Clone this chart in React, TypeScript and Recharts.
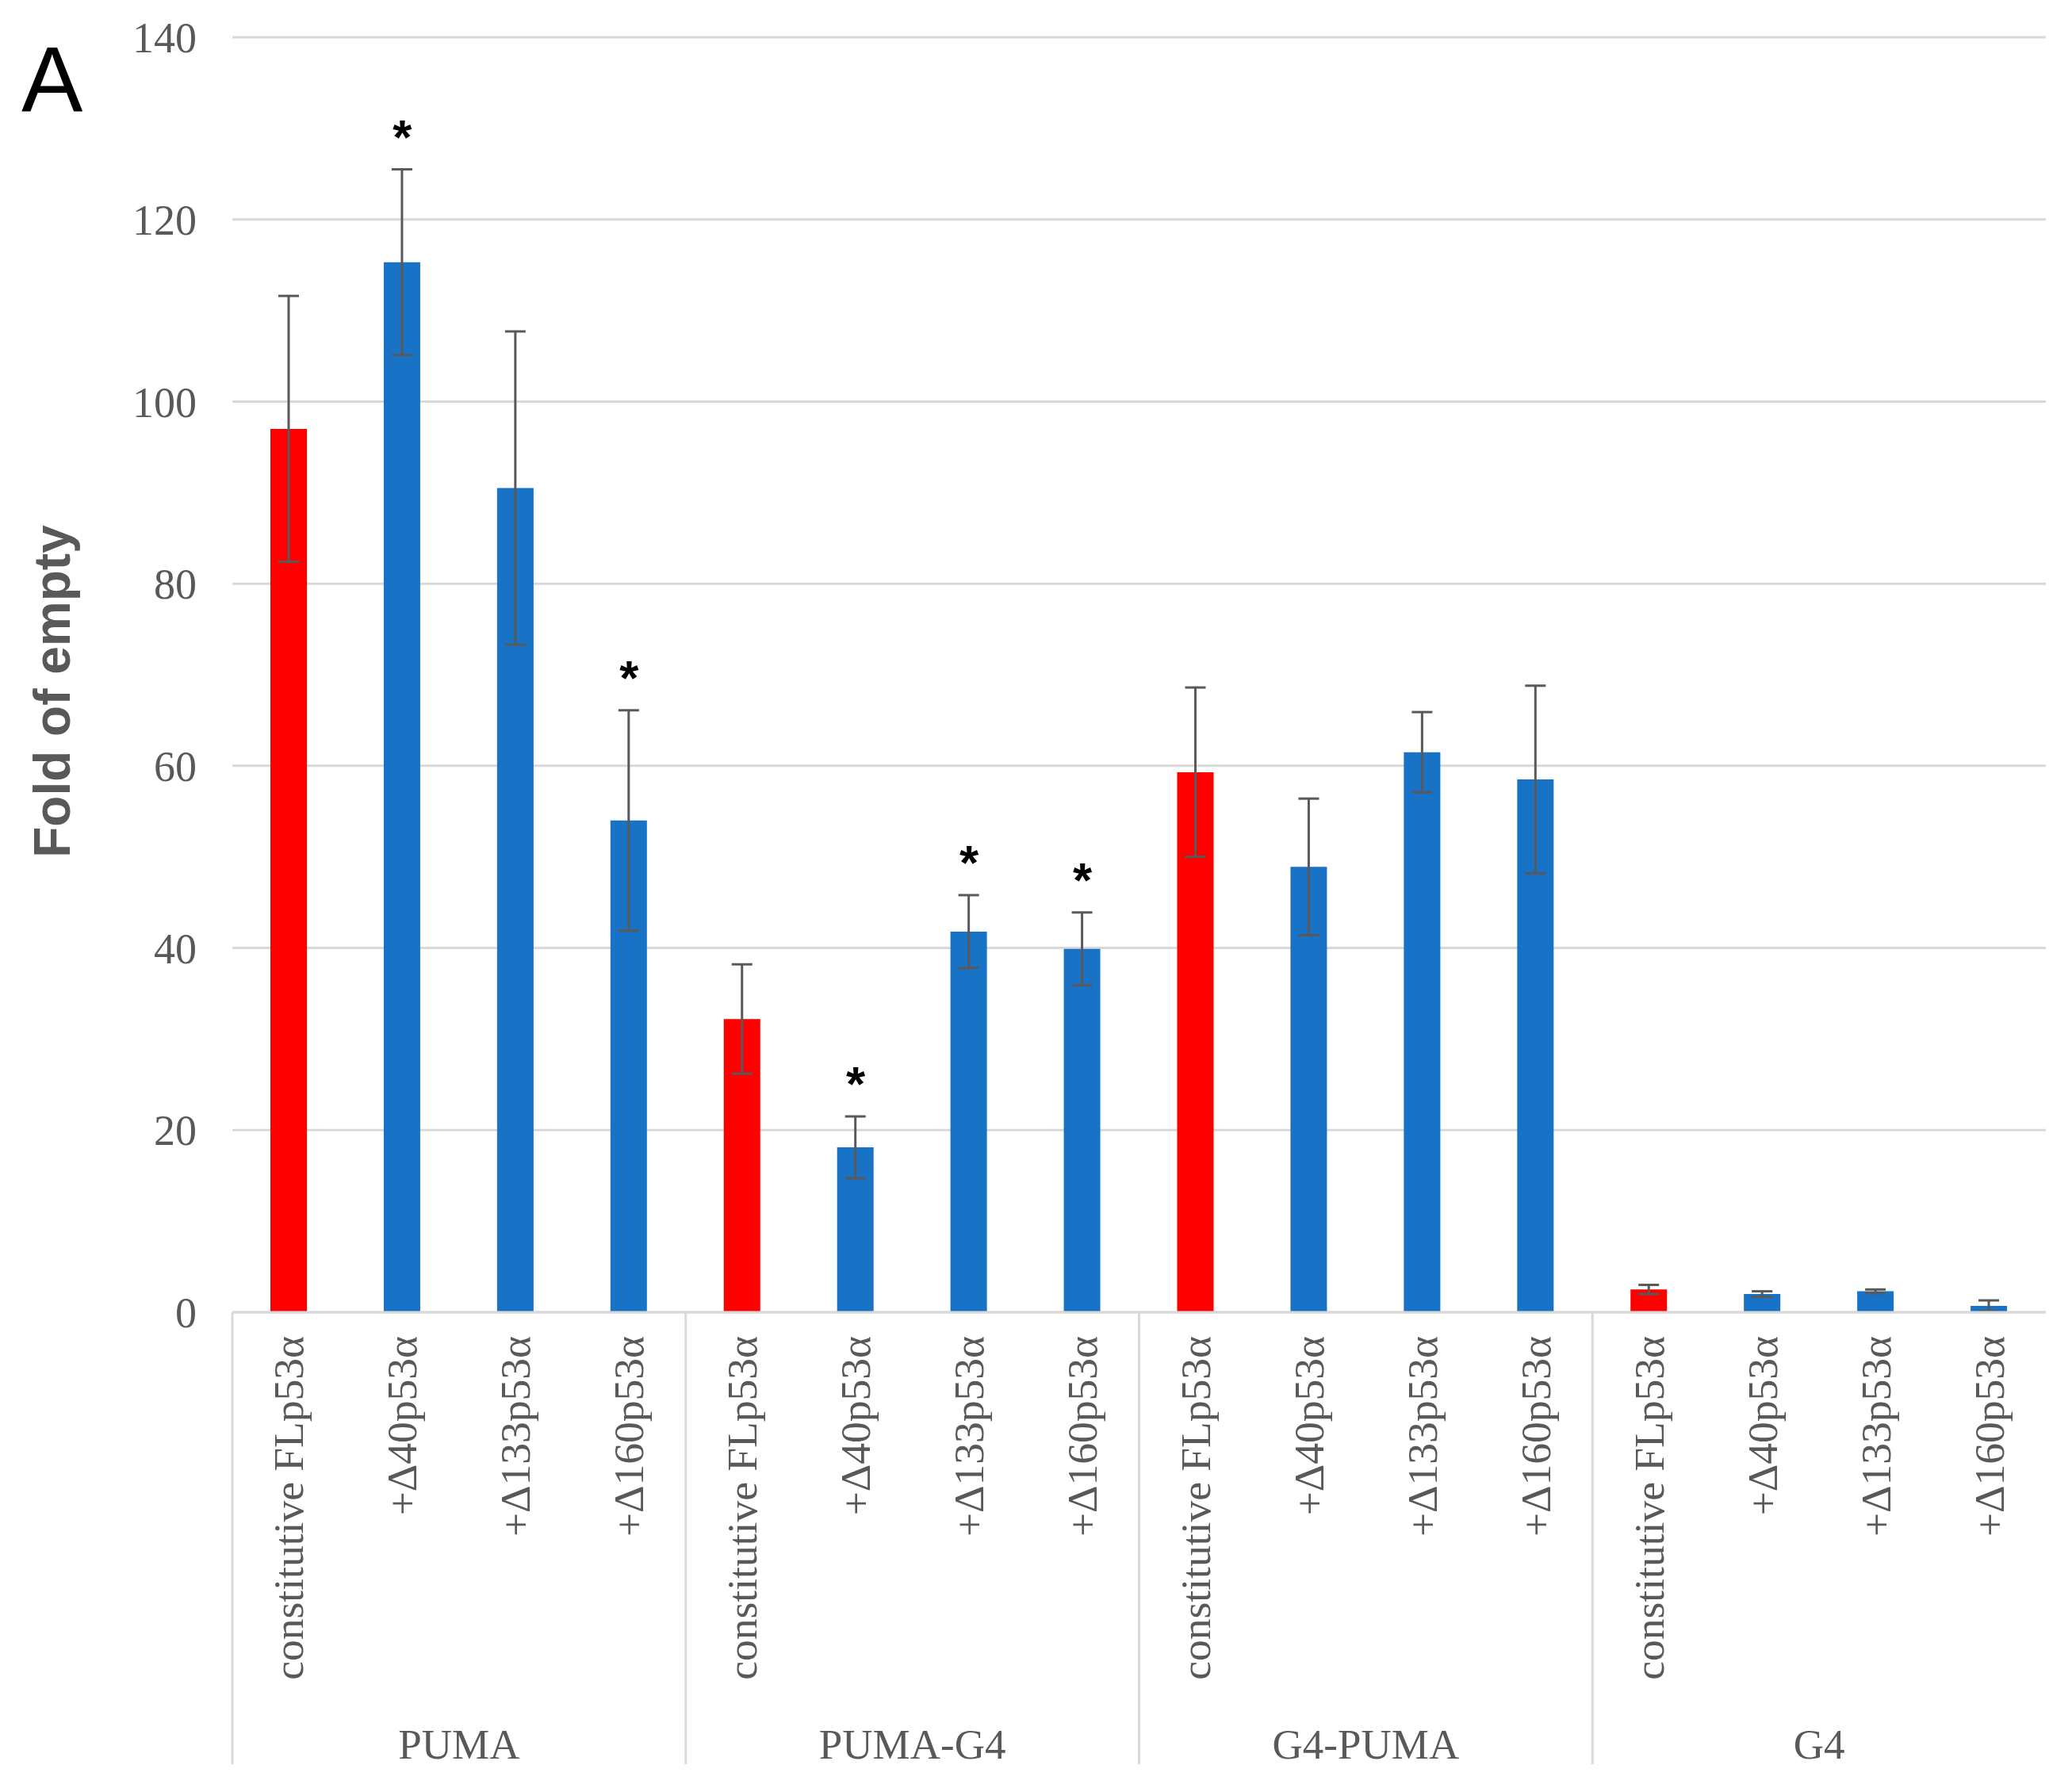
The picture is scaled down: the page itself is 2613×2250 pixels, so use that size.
import React from "react";
import { ComposedChart, Bar, Cell, ErrorBar, XAxis, YAxis, CartesianGrid, Scatter, Label } from "recharts";

const groups = ["PUMA", "PUMA-G4", "G4-PUMA", "G4"];
const conditions = ["constitutive FLp53α", "+Δ40p53α", "+Δ133p53α", "+Δ160p53α"];

// one value per bar, group by group
const values = [97.0, 115.3, 90.5, 54.0, 32.2, 18.1, 41.8, 39.9, 59.3, 48.9, 61.5, 58.5, 2.5, 2.0, 2.3, 0.7];
const errors = [14.6, 10.2, 17.2, 12.1, 6.0, 3.4, 4.0, 4.0, 9.3, 7.5, 4.4, 10.3, 0.5, 0.3, 0.2, 0.6];
const significant = [false, true, false, true, false, true, true, true, false, false, false, false, false, false, false, false];
const yTicks = [0, 20, 40, 60, 80, 100, 120, 140];

const RED = "#FF0000";
const BLUE = "#1872C6";
const GREY = "#595959";
const LINE = "#D9D9D9";

const W = 2613;
const H = 2250;
const LEFT = 293;
const RIGHT_MARGIN = 33;
const AXIS_Y = 1655;
const SLOT = (W - LEFT - RIGHT_MARGIN) / 16;

const data = values.map((v, i) => ({
  id: `${groups[Math.floor(i / 4)]}-${i}`,
  label: conditions[i % 4],
  group: groups[Math.floor(i / 4)],
  value: v,
  err: errors[i],
  star: significant[i] ? v + errors[i] : null,
}));

const CategoryTick = (props: any) => {
  const { x, y, index } = props;
  const ty = y + 30;
  return (
    <g>
      <text
        x={x}
        y={ty}
        transform={`rotate(-90, ${x}, ${ty})`}
        textAnchor="end"
        dominantBaseline="central"
        fontFamily="'Liberation Serif', serif"
        fontSize={53.5}
        fill={GREY}
      >
        {data[index].label}
      </text>
      {index % 4 === 0 && (
        <line x1={x - SLOT / 2} x2={x - SLOT / 2} y1={y} y2={y + 570} stroke={LINE} strokeWidth={3} />
      )}
      {index % 4 === 1 && (
        <text
          x={x + SLOT / 2}
          y={y + 545}
          textAnchor="middle"
          dominantBaseline="central"
          fontFamily="'Liberation Serif', serif"
          fontSize={53}
          fill={GREY}
        >
          {data[index].group}
        </text>
      )}
    </g>
  );
};

const Star = (props: any) => {
  const { cx, cy, payload } = props;
  if (payload == null || payload.star == null) return <g />;
  return (
    <text x={cx} y={cy - 20} textAnchor="middle" fontFamily="'Liberation Sans', sans-serif" fontWeight="bold" fontSize={62} fill="#000">
      *
    </text>
  );
};

const renderYLabel = () => (
  <text
    x={66}
    y={872}
    transform="rotate(-90, 66, 872)"
    textAnchor="middle"
    dominantBaseline="central"
    fontFamily="'Liberation Sans', Arial, sans-serif"
    fontWeight="bold"
    fontSize={64}
    fill={GREY}
  >
    Fold of empty
  </text>
);

export default function App() {
  return (
    <div style={{ position: "relative", width: W, height: H, background: "#fff" }}>
      <style>{`body{margin:0}`}</style>
      <div
        style={{
          position: "absolute",
          left: 27,
          top: 43,
          fontFamily: "'Liberation Sans', Arial, sans-serif",
          fontSize: 116,
          lineHeight: "116px",
          color: "#000",
        }}
      >
        A
      </div>
      <ComposedChart width={W} height={H} data={data} margin={{ top: 47, right: RIGHT_MARGIN, left: 0, bottom: 0 }}>
        <CartesianGrid vertical={false} stroke={LINE} strokeWidth={3} />
        <XAxis
          dataKey="id"
          interval={0}
          height={H - AXIS_Y}
          axisLine={{ stroke: LINE, strokeWidth: 3 }}
          tickLine={false}
          tickSize={0}
          tickMargin={0}
          tick={<CategoryTick />}
        />
        <YAxis
          width={LEFT}
          domain={[0, 140]}
          ticks={yTicks}
          axisLine={false}
          tickLine={false}
          tickSize={0}
          tickMargin={45}
          tick={{ fontFamily: "'Liberation Serif', serif", fontSize: 54, fill: GREY }}
        >
          <Label content={renderYLabel} />
        </YAxis>
        <Bar dataKey="value" barSize={46} isAnimationActive={false}>
          {data.map((d, i) => (
            <Cell key={d.id} fill={i % 4 === 0 ? RED : BLUE} />
          ))}
          <ErrorBar dataKey="err" width={13} stroke={GREY} strokeWidth={3} />
        </Bar>
        <Scatter dataKey="star" shape={<Star />} isAnimationActive={false} />
      </ComposedChart>
    </div>
  );
}
